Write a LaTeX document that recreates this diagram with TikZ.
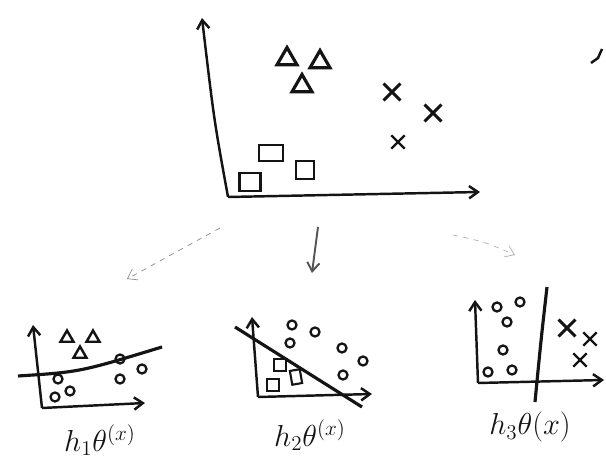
\documentclass[tikz,border=0pt]{standalone}
\usepackage{amsmath,amssymb}
\usepackage{xcolor}
\usepackage{tikz}
\usetikzlibrary{shapes,shapes.geometric,shapes.misc,arrows,arrows.meta,positioning,calc}
\definecolor{inkblack}{RGB}{20, 20, 20}
\definecolor{pencilgrey}{RGB}{140, 140, 140}
\definecolor{softgrey}{RGB}{175, 175, 175}

\begin{document}
\begin{tikzpicture}[x=0.02cm,y=-0.02cm,
    >={Straight Barb[length=5pt,width=7pt]},
    axis/.style={->,line width=1.4pt,inkblack},
    boundary/.style={line width=1.8pt,inkblack},
    tri/.style={draw=inkblack,line width=1.8pt,regular polygon,regular polygon sides=3,inner sep=0pt,minimum size=0.46cm},
    smalltri/.style={tri,line width=1.4pt,minimum size=0.3cm},
    sq/.style={draw=inkblack,line width=1.5pt,rectangle,inner sep=0pt,minimum width=0.42cm,minimum height=0.36cm},
    smallsq/.style={sq,line width=1.2pt,minimum width=0.24cm,minimum height=0.24cm},
    xmark/.style={draw=inkblack,line width=1.7pt,cross out,inner sep=0pt,minimum size=0.28cm},
    smallx/.style={xmark,line width=1.4pt,minimum size=0.22cm},
    ring/.style={draw=inkblack,line width=1.3pt,circle,inner sep=0pt,minimum size=0.18cm},
    flow/.style={->,thin,dashed,pencilgrey},
    hyp/.style={inkblack,font=\LARGE}]
    \useasboundingbox (0,0) rectangle (606,472);

    % Main scatter plot
    \coordinate (mo) at (228,197);
    \coordinate (my) at (202,18);
    \coordinate (mx) at (480,192);
    \draw[axis] (mo) .. controls (214,120) .. (my);
    \draw[axis] (mo) -- (mx);
    \node[tri] (t1) at (287,59) {};
    \node[tri] (t2) at (320,62) {};
    \node[tri] (t3) at (302,86) {};
    \node[xmark] (c1) at (392,92) {};
    \node[xmark] (c2) at (433,113) {};
    \node[smallx] (c3) at (398,142) {};
    \node[sq] (s1) at (250,182) {};
    \node[sq,minimum width=0.48cm,minimum height=0.32cm] (s2) at (271,153) {};
    \node[sq,minimum width=0.36cm,minimum height=0.36cm] (s3) at (305,170) {};
    % stray stroke at the right edge
    \draw[line width=1.4pt,inkblack] (591,63) -- (598,58) -- (602,49);

    % Arrows to the three hypotheses
    \coordinate (a1s) at (220,228);
    \coordinate (a1e) at (127,279);
    \coordinate (a2s) at (318,227);
    \coordinate (a2e) at (312,273);
    \coordinate (a3s) at (453,235);
    \coordinate (a3e) at (515,255);
    \draw[flow] (a1s) -- (a1e);
    \draw[->,line width=1.1pt,pencilgrey!60!black] (a2s) -- (a2e);
    \draw[flow,softgrey] (a3s) .. controls (485,242) .. (a3e);

    % Hypothesis 1
    \coordinate (o1) at (42,408);
    \coordinate (y1) at (33,325);
    \coordinate (x1) at (145,403);
    \draw[axis] (o1) -- (y1);
    \draw[axis] (o1) -- (x1);
    \draw[boundary] (18,376) .. controls (80,372) .. (162,347);
    \node[smalltri] (h1t1) at (67,338) {};
    \node[smalltri] (h1t2) at (93,338) {};
    \node[smalltri] (h1t3) at (80,354) {};
    \node[ring] (h1c1) at (58,379) {};
    \node[ring] (h1c2) at (55,397) {};
    \node[ring] (h1c3) at (70,391) {};
    \node[ring] (h1c4) at (120,359) {};
    \node[ring] (h1c5) at (120,379) {};
    \node[ring] (h1c6) at (142,369) {};
    \node[hyp] (l1) at (100,440) {$h_{1}\theta^{(x)}$};

    % Hypothesis 2
    \coordinate (o2) at (258,397);
    \coordinate (y2) at (252,317);
    \coordinate (x2) at (372,394);
    \draw[axis] (o2) -- (y2);
    \draw[axis] (o2) -- (x2);
    \draw[boundary] (235,327) -- (362,407);
    \node[smallsq] (h2s1) at (280,365) {};
    \node[smallsq] (h2s2) at (273,385) {};
    \node[smallsq,rotate=10,minimum width=0.2cm,minimum height=0.28cm] (h2s3) at (296,377) {};
    \node[ring] (h2c1) at (292,325) {};
    \node[ring] (h2c2) at (315,332) {};
    \node[ring] (h2c3) at (290,343) {};
    \node[ring] (h2c4) at (342,348) {};
    \node[ring] (h2c5) at (363,361) {};
    \node[ring] (h2c6) at (343,375) {};
    \node[hyp] (l2) at (310,435) {$h_{2}\theta^{(x)}$};

    % Hypothesis 3
    \coordinate (o3) at (478,383);
    \coordinate (y3) at (475,300);
    \coordinate (x3) at (604,380);
    \draw[axis] (o3) -- (y3);
    \draw[axis] (o3) -- (x3);
    \draw[boundary] (547,287) .. controls (541,340) .. (535,402);
    \node[ring] (h3c1) at (497,307) {};
    \node[ring] (h3c2) at (520,302) {};
    \node[ring] (h3c3) at (507,322) {};
    \node[ring] (h3c4) at (503,350) {};
    \node[ring] (h3c5) at (488,372) {};
    \node[ring] (h3c6) at (512,370) {};
    \node[xmark] (h3x1) at (567,328) {};
    \node[smallx] (h3x2) at (590,339) {};
    \node[smallx] (h3x3) at (580,360) {};
    \node[hyp] (l3) at (530,427) {$h_{3}\theta(x)$};
\end{tikzpicture}
\end{document}
